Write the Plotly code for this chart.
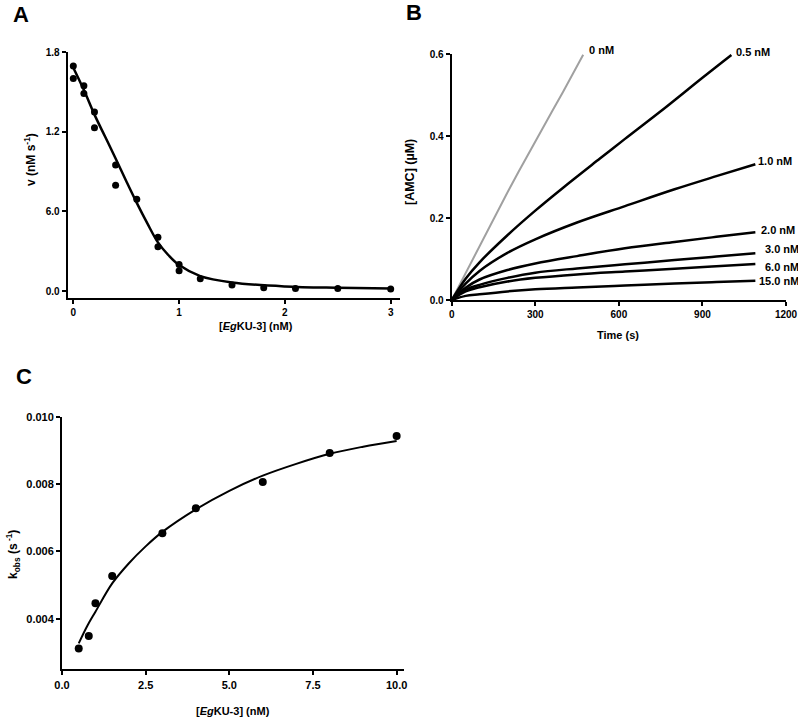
import plotly.graph_objects as go

W, H = 798, 718
FONT = "Liberation Sans, Arial, sans-serif"

# ---------------- Panel A data ----------------
a_conc = [0, 0, 0.1, 0.1, 0.2, 0.2, 0.4, 0.4, 0.6, 0.8, 0.8, 1.0, 1.0, 1.2, 1.5, 1.8, 2.1, 2.5, 3.0]
a_rate = [1.696, 1.603, 1.547, 1.49, 1.349, 1.231, 0.95, 0.797, 0.693, 0.405, 0.334,
          0.201, 0.153, 0.093, 0.045, 0.025, 0.02, 0.02, 0.015]
a_fit_x = [0, 0.1, 0.2, 0.3, 0.4, 0.5, 0.6, 0.7, 0.8, 0.9, 1.0, 1.2, 1.5, 2.0, 2.5, 3.0]
a_fit_y = [1.683, 1.515, 1.33, 1.165, 1.0, 0.83, 0.665, 0.51, 0.367, 0.27, 0.196,
           0.113, 0.065, 0.035, 0.025, 0.02]
a_ytick_vals = [0, 0.6, 1.2, 1.8]
a_ytick_text = ["0.0", "6.0", "1.2", "1.8"]
a_xtick_vals = [0, 1, 2, 3]

# ---------------- Panel B data ----------------
b_labels = ["0 nM", "0.5 nM", "1.0 nM", "2.0 nM", "3.0 nM", "6.0 nM", "15.0 nM"]
b_t0 = [0, 40, 80, 120, 160, 200, 240, 280, 320, 360, 400, 440, 472]
b_y0 = [0, 0.053, 0.106, 0.158, 0.21, 0.262, 0.313, 0.363, 0.412, 0.46, 0.508, 0.556, 0.598]
b_t = [0, 50, 100, 200, 300, 450, 622, 800, 950, 1090]
b_y05_t = [0, 50, 100, 200, 300, 400, 532, 622, 772, 900, 1004]
b_y05 = [0, 0.052, 0.092, 0.158, 0.218, 0.274, 0.345, 0.393, 0.472, 0.542, 0.5976]
b_y10 = [0, 0.04, 0.071, 0.115, 0.148, 0.189, 0.229, 0.27, 0.302, 0.331]
b_y20 = [0, 0.03, 0.05, 0.073, 0.089, 0.107, 0.126, 0.1415, 0.154, 0.165]
b_y30 = [0, 0.025, 0.037, 0.054, 0.0667, 0.077, 0.087, 0.0975, 0.106, 0.1138]
b_y60 = [0, 0.021, 0.031, 0.045, 0.054, 0.0625, 0.0695, 0.0763, 0.0824, 0.0878]
b_y150 = [0, 0.01, 0.014, 0.021, 0.026, 0.0305, 0.0353, 0.0401, 0.0438, 0.047]
b_xticks = [0, 300, 600, 900, 1200]
b_yticks = [0, 0.2, 0.4, 0.6]

# ---------------- Panel C data ----------------
c_conc = [0.5, 0.8, 1.0, 1.5, 3.0, 4.0, 6.0, 8.0, 10.0]
c_kobs = [0.00312, 0.00349, 0.00446, 0.00527, 0.00654, 0.00728, 0.00806, 0.00892, 0.00943]
c_fit_x = [0.5, 0.75, 1.0, 1.5, 2.0, 2.5, 3.0, 4.0, 5.0, 6.0, 7.0, 8.0, 9.0, 10.0]
c_fit_y = [0.00327, 0.00378, 0.00421, 0.00505, 0.00565, 0.00615, 0.00658, 0.00725,
           0.0078, 0.00825, 0.0086, 0.0089, 0.00911, 0.00928]
c_xticks = [0, 2.5, 5.0, 7.5, 10.0]
c_yticks = [0.004, 0.006, 0.008, 0.010]


def px_x(p):
    return p / W


def px_y(p):
    return 1 - p / H


fig = go.Figure()

# Panel A
fig.add_trace(go.Scatter(x=a_fit_x, y=a_fit_y, mode="lines", line=dict(color="black", width=2.5, shape="spline"),
                         xaxis="x", yaxis="y", showlegend=False, hoverinfo="skip"))
fig.add_trace(go.Scatter(x=a_conc, y=a_rate, mode="markers", marker=dict(color="black", size=7),
                         xaxis="x", yaxis="y", showlegend=False))

# Panel B
fig.add_trace(go.Scatter(x=b_t0, y=b_y0, mode="lines", line=dict(color="#a0a0a0", width=2),
                         xaxis="x2", yaxis="y2", showlegend=False))
b_black = [(b_y05_t, b_y05), (b_t, b_y10), (b_t, b_y20), (b_t, b_y30), (b_t, b_y60), (b_t, b_y150)]
for tx, ty in b_black:
    fig.add_trace(go.Scatter(x=tx, y=ty, mode="lines", line=dict(color="black", width=2.5, shape="spline"),
                             xaxis="x2", yaxis="y2", showlegend=False))

# Panel C
fig.add_trace(go.Scatter(x=c_fit_x, y=c_fit_y, mode="lines", line=dict(color="black", width=2, shape="spline"),
                         xaxis="x3", yaxis="y3", showlegend=False))
fig.add_trace(go.Scatter(x=c_conc, y=c_kobs, mode="markers", marker=dict(color="black", size=8),
                         xaxis="x3", yaxis="y3", showlegend=False))


def axis_style(size):
    return dict(showline=True, linecolor="black", linewidth=2, ticks="outside", ticklen=4,
                tickwidth=2, tickcolor="black", showgrid=False, zeroline=False,
                tickfont=dict(family=FONT, size=size, color="black", weight="bold"),
                fixedrange=True, automargin=False, ticklabeloverflow="allow")


fig.update_layout(
    template="none",
    width=W, height=H, margin=dict(l=0, r=0, t=0, b=0, pad=0),
    paper_bgcolor="white", plot_bgcolor="white", showlegend=False,
    xaxis=dict(domain=[px_x(67.7), px_x(400)], range=[-0.053, 3.088], anchor="y",
               tickvals=a_xtick_vals, ticktext=[str(v) for v in a_xtick_vals], **axis_style(10)),
    yaxis=dict(domain=[px_y(297.7), px_y(52.3)], range=[-0.05, 1.8], anchor="x",
               tickvals=a_ytick_vals, ticktext=a_ytick_text, **axis_style(10)),
    xaxis2=dict(domain=[px_x(451.7), px_x(786)], range=[0, 1200], anchor="y2",
                tickvals=b_xticks, ticktext=[str(v) for v in b_xticks], **axis_style(10)),
    yaxis2=dict(domain=[px_y(300), px_y(54)], range=[0, 0.6], anchor="x2",
                tickvals=b_yticks, ticktext=[f"{v:.1f}" for v in b_yticks], **axis_style(10)),
    xaxis3=dict(domain=[px_x(62), px_x(404)], range=[0, 10.22], anchor="y3",
                tickvals=c_xticks, ticktext=[f"{v:.1f}" for v in c_xticks], **axis_style(11)),
    yaxis3=dict(domain=[px_y(669.3), px_y(416.7)], range=[0.0025, 0.010], anchor="x3",
                tickvals=c_yticks, ticktext=[f"{v:.3f}" for v in c_yticks], **axis_style(11)),
)

annotations = []


def paper_ann(text, x, y, size=11, angle=0):
    annotations.append(dict(text=text, x=px_x(x), y=px_y(y), xref="paper", yref="paper",
                            showarrow=False, textangle=angle, xanchor="center", yanchor="middle",
                            font=dict(family=FONT, size=size, color="black", weight="bold")))


# Panel letters
paper_ann("A", 21, 14, size=22)
paper_ann("B", 414, 13, size=22)
paper_ann("C", 24, 377, size=22)

# Axis titles
paper_ann("v (nM s<sup>-1</sup>)", 30, 160, size=12, angle=-90)
paper_ann("[<i>Eg</i>KU-3] (nM)", 256, 326)
paper_ann("[AMC] (µM)", 410, 172, size=12.5, angle=-90)
paper_ann("Time (s)", 618, 335)
paper_ann("k<sub>obs</sub> (s<sup> -1</sup>)", 13, 555, size=12, angle=-90)
paper_ann("[<i>Eg</i>KU-3] (nM)", 233, 711)

# Curve labels in panel B
b_ends = [(b_t0[-1], b_y0[-1])] + [(tx[-1], ty[-1]) for tx, ty in b_black]
b_shifts = [(4, 5), (3, 3), (1, 3), (4, 2), (8, 4), (8, -3), (2, 0)]
for lab, (ex, ey), (sx, sy) in zip(b_labels, b_ends, b_shifts):
    annotations.append(dict(text=lab, x=ex, y=ey, xref="x2", yref="y2", showarrow=False,
                            xanchor="left", yanchor="middle", xshift=sx, yshift=sy,
                            font=dict(family=FONT, size=11, color="black", weight="bold")))

fig.update_layout(annotations=annotations)
fig.write_html("out.html", config={"displayModeBar": False},
               post_script="document.body.style.margin='0';document.body.style.overflow='hidden';")
